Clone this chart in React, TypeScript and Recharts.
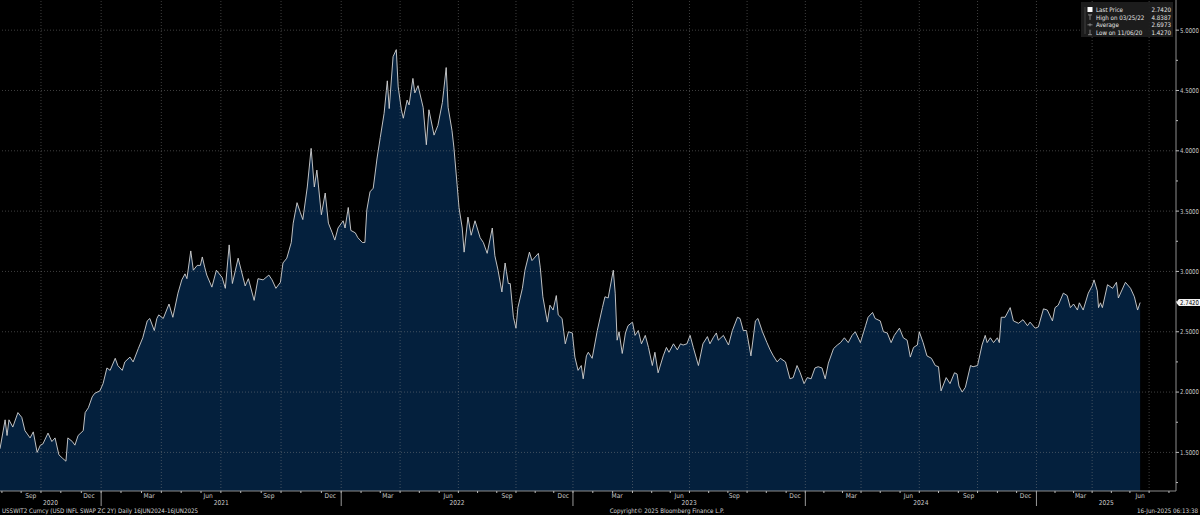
import React from "react";
import { AreaChart, Area, XAxis, YAxis, ReferenceLine } from "recharts";

// day offsets counted from 2020-07-31, Bloomberg daily closes
const days = [
  0, 8, 11, 14, 20, 28, 34, 39, 47, 52,
  58, 63, 67, 75, 81, 86, 92, 98, 103, 106,
  113, 117, 122, 130, 133, 138, 144, 148, 156, 161,
  167, 172, 180, 184, 191, 195, 203, 208, 216, 223,
  230, 234, 241, 245, 248, 255, 264, 270, 278, 284,
  289, 292, 298, 302, 308, 313, 316, 320, 323, 331,
  338, 347, 352, 358, 363, 372, 383, 388, 397, 403,
  411, 420, 425, 431, 438, 442, 448, 455, 458, 464,
  469, 473, 480, 486, 491, 495, 502, 508, 513, 519,
  523, 528, 536, 539, 544, 548, 555, 559, 566, 570,
  573, 578, 583, 589, 594, 600, 605, 608, 614, 619,
  622, 627, 630, 636, 639, 645, 648, 653, 661, 666,
  670, 678, 684, 691, 697, 700, 706, 709, 714, 717,
  722, 725, 731, 736, 742, 750, 755, 761, 769, 773,
  778, 784, 789, 794, 797, 802, 806, 809, 816, 820,
  827, 831, 836, 841, 844, 848, 855, 859, 864, 869,
  872, 878, 883, 888, 894, 898, 903, 908, 911, 916,
  919, 925, 933, 941, 945, 950, 958, 961, 964, 967,
  972, 977, 981, 988, 992, 997, 1002, 1008, 1013, 1019,
  1023, 1028, 1036, 1041, 1045, 1052, 1058, 1063, 1067, 1073,
  1078, 1083, 1091, 1098, 1105, 1109, 1114, 1119, 1122, 1130,
  1138, 1144, 1152, 1156, 1161, 1166, 1173, 1180, 1184, 1191,
  1198, 1203, 1208, 1214, 1219, 1227, 1234, 1239, 1245, 1250,
  1256, 1261, 1267, 1273, 1278, 1284, 1289, 1294, 1302, 1308,
  1313, 1319, 1325, 1331, 1336, 1344, 1352, 1356, 1363, 1367,
  1375, 1380, 1386, 1392, 1397, 1405, 1411, 1417, 1422, 1427,
  1433, 1436, 1442, 1448, 1455, 1461, 1466, 1470, 1478, 1484,
  1491, 1495, 1498, 1503, 1508, 1516, 1520, 1527, 1534, 1539,
  1542, 1547, 1552, 1558, 1561, 1564, 1570, 1578, 1583, 1591,
  1598, 1605, 1609, 1617, 1622, 1630, 1636, 1644, 1648, 1653,
  1661, 1667, 1672, 1677, 1683, 1686, 1692, 1700, 1706, 1709,
  1714, 1716, 1719, 1722, 1730, 1738, 1744, 1747, 1758, 1766,
  1772, 1777, 1781,
];

const prices = [
  1.53, 1.77, 1.64, 1.77, 1.71, 1.83, 1.79, 1.68, 1.62, 1.67,
  1.5, 1.56, 1.57, 1.66, 1.59, 1.62, 1.48, 1.45, 1.427, 1.62,
  1.59, 1.56, 1.64, 1.68, 1.83, 1.87, 1.96, 1.99, 2.01, 2.07,
  2.2, 2.18, 2.28, 2.22, 2.18, 2.25, 2.29, 2.25, 2.36, 2.45,
  2.59, 2.61, 2.51, 2.61, 2.64, 2.61, 2.73, 2.62, 2.82, 2.93,
  2.98, 2.94, 3.17, 3.01, 3.05, 3.05, 3.12, 3.03, 2.97, 2.87,
  3.01, 2.95, 2.86, 3.22, 2.9, 3.11, 2.88, 2.94, 2.76, 2.94,
  2.93, 2.97, 2.93, 2.86, 2.91, 3.07, 3.11, 3.24, 3.4, 3.57,
  3.49, 3.43, 3.7, 4.02, 3.7, 3.84, 3.47, 3.65, 3.4, 3.32,
  3.26, 3.36, 3.42, 3.36, 3.53, 3.34, 3.32, 3.28, 3.24, 3.24,
  3.51, 3.66, 3.69, 3.94, 4.11, 4.31, 4.58, 4.35, 4.78, 4.8387,
  4.53, 4.34, 4.27, 4.42, 4.38, 4.6, 4.48, 4.54, 4.36, 4.05,
  4.34, 4.13, 4.21, 4.4, 4.69, 4.36, 4.17, 4.03, 3.72, 3.53,
  3.36, 3.16, 3.45, 3.3, 3.42, 3.28, 3.24, 3.15, 3.36, 3.13,
  3.01, 2.83, 3.07, 2.9, 2.9, 2.62, 2.53, 2.7, 2.86, 3.01,
  3.16, 3.09, 3.12, 3.15, 3.03, 2.79, 2.58, 2.72, 2.68, 2.8,
  2.64, 2.61, 2.4, 2.5, 2.49, 2.29, 2.18, 2.22, 2.11, 2.3,
  2.33, 2.28, 2.51, 2.7, 2.79, 2.78, 3.01, 2.82, 2.43, 2.5,
  2.32, 2.49, 2.55, 2.58, 2.47, 2.51, 2.4, 2.47, 2.37, 2.22,
  2.33, 2.16, 2.3, 2.37, 2.33, 2.4, 2.35, 2.4, 2.39, 2.4,
  2.47, 2.37, 2.22, 2.4, 2.46, 2.4, 2.45, 2.49, 2.43, 2.47,
  2.39, 2.51, 2.62, 2.61, 2.51, 2.51, 2.3, 2.59, 2.61, 2.5,
  2.41, 2.35, 2.3, 2.25, 2.28, 2.25, 2.11, 2.12, 2.22, 2.16,
  2.07, 2.12, 2.11, 2.2, 2.21, 2.2, 2.11, 2.24, 2.36, 2.39,
  2.41, 2.45, 2.41, 2.47, 2.5, 2.41, 2.55, 2.62, 2.66, 2.61,
  2.59, 2.5, 2.49, 2.41, 2.47, 2.53, 2.45, 2.43, 2.29, 2.37,
  2.39, 2.5, 2.41, 2.3, 2.28, 2.22, 2.21, 2.01, 2.12, 2.07,
  2.16, 2.15, 2.05, 2.0, 2.04, 2.22, 2.21, 2.22, 2.39, 2.47,
  2.41, 2.45, 2.41, 2.45, 2.41, 2.62, 2.62, 2.7, 2.59, 2.57,
  2.6, 2.55, 2.58, 2.53, 2.54, 2.69, 2.68, 2.59, 2.7, 2.72,
  2.82, 2.8, 2.7, 2.73, 2.68, 2.74, 2.68, 2.82, 2.88, 2.93,
  2.84, 2.7, 2.74, 2.7, 2.89, 2.86, 2.91, 2.78, 2.91, 2.86,
  2.79, 2.68, 2.742,
];

const monthLabelDays = [48, 139, 233, 325, 420, 516, 606, 700, 792, 880, 964, 1061, 1147, 1242, 1330, 1419, 1513, 1602, 1688, 1781];
const monthLabels = ["Sep", "Dec", "Mar", "Jun", "Sep", "Dec", "Mar", "Jun", "Sep", "Dec", "Mar", "Jun", "Sep", "Dec", "Mar", "Jun", "Sep", "Dec", "Mar", "Jun"];
const quarterDays = [64, 158, 252, 345, 439, 533, 625, 716, 806, 895, 988, 1077, 1167, 1258, 1345, 1436, 1527, 1619, 1706, 1795];
const yearBreakDays = [158, 533, 895, 1258, 1619];
const yearLabels = ["2020", "2021", "2022", "2023", "2024", "2025"];
const priceTicks = [1.25, 1.5, 1.75, 2, 2.25, 2.5, 2.75, 3, 3.25, 3.5, 3.75, 4, 4.25, 4.5, 4.75, 5];
const gridPrices = [1.5, 2, 2.5, 3, 3.5, 4, 4.5, 5];

const lastPrice = 2.742;
const legendRows = [
  { label: "Last Price", value: "2.7420" },
  { label: "High on 03/25/22", value: "4.8387" },
  { label: "Average", value: "2.6973" },
  { label: "Low on 11/06/20", value: "1.4270" },
];

const X_MAX = 1837;
const Y_DOMAIN: [number, number] = [1.18, 5.25];
const FONT = "'Liberation Sans Narrow', 'DejaVu Sans Condensed', 'Arial Narrow', sans-serif";
const GRID = "rgba(140,140,140,0.45)";

const series = days.map((d, i) => ({ day: d, price: prices[i] }));

// month start marks: quarter lines plus the two months in between
const minorDays: number[] = [3, 33];
quarterDays.forEach((q, i) => {
  minorDays.push(q);
  const next = quarterDays[i + 1];
  if (next) {
    minorDays.push(Math.round(q + (next - q) / 3), Math.round(q + (2 * (next - q)) / 3));
  }
});
minorDays.push(1826);

const yearEdges = [0, ...yearBreakDays, X_MAX];
const yearMidDays = yearLabels.map((_, i) => (yearEdges[i] + yearEdges[i + 1]) / 2);

const MonthTick = (props: any) => {
  const { x, y, payload } = props;
  const idx = monthLabelDays.indexOf(payload.value);
  if (idx < 0) {
    return <line x1={x} x2={x} y1={y} y2={y + 2} stroke="#bbbbbb" strokeWidth={1} />;
  }
  return (
    <text x={x} y={y + 7} textAnchor="middle" fill="#c8c8c8" fontSize={6.6} fontFamily={FONT}>
      {monthLabels[idx]}
    </text>
  );
};

const YearTick = (props: any) => {
  const { x, y, payload } = props;
  if (yearBreakDays.includes(payload.value)) {
    return <line x1={x} x2={x} y1={y - 8} y2={y + 7} stroke="#9a9a9a" strokeWidth={1} />;
  }
  const idx = yearMidDays.indexOf(payload.value);
  return (
    <text x={x} y={y + 6} textAnchor="middle" fill="#c8c8c8" fontSize={6.6} fontFamily={FONT}>
      {yearLabels[idx]}
    </text>
  );
};

const PriceTick = (props: any) => {
  const { x, y, payload } = props;
  const major = gridPrices.includes(payload.value);
  return (
    <g>
      <line x1={x} x2={x + (major ? 3 : 2)} y1={y} y2={y} stroke="#bbbbbb" strokeWidth={1} />
      {major && (
        <text
          x={x + 4}
          y={y + 2.4}
          fill="#c8c8c8"
          fontSize={6.6}
          fontFamily={FONT}
          textLength={19}
          lengthAdjust="spacingAndGlyphs"
        >
          {payload.value.toFixed(4)}
        </text>
      )}
    </g>
  );
};

const LastPriceTag = (props: any) => {
  const { viewBox } = props;
  const x = viewBox.x + viewBox.width;
  const y = viewBox.y;
  return (
    <g>
      <polygon
        points={`${x},${y} ${x + 3},${y - 3.5} ${x + 24},${y - 3.5} ${x + 24},${y + 3.5} ${x + 3},${y + 3.5}`}
        fill="#f2f2f2"
      />
      <text
        x={x + 4}
        y={y + 2.4}
        fill="#000"
        fontSize={6.6}
        fontFamily={FONT}
        textLength={19}
        lengthAdjust="spacingAndGlyphs"
      >
        {lastPrice.toFixed(4)}
      </text>
    </g>
  );
};

const LegendIcon = ({ kind, x, y }: { kind: number; x: number; y: number }) => {
  if (kind === 0) return <rect x={x - 2.5} y={y - 3} width={5} height={5} fill="#ffffff" />;
  if (kind === 1)
    return (
      <g stroke="#9a9a9a" strokeWidth={0.8}>
        <line x1={x - 2} x2={x + 2} y1={y - 2.5} y2={y - 2.5} />
        <line x1={x} x2={x} y1={y - 2.5} y2={y + 2.5} />
      </g>
    );
  if (kind === 2)
    return (
      <g stroke="#9a9a9a" strokeWidth={0.8}>
        <line x1={x - 2.5} x2={x + 2.5} y1={y} y2={y} />
        <line x1={x} x2={x} y1={y - 1.5} y2={y + 1.5} />
      </g>
    );
  return (
    <g stroke="#9a9a9a" strokeWidth={0.8}>
      <line x1={x - 2} x2={x + 2} y1={y + 2.5} y2={y + 2.5} />
      <line x1={x} x2={x} y1={y - 2.5} y2={y + 2.5} />
    </g>
  );
};

export default function App() {
  return (
    <div style={{ position: "absolute", left: 0, top: 0, width: 1200, height: 515, background: "#000", overflow: "hidden" }}>
      <AreaChart width={1200} height={515} data={series} margin={{ top: 0, right: 0, bottom: 8, left: 0 }}>
        <XAxis
          xAxisId="m"
          dataKey="day"
          type="number"
          domain={[0, X_MAX]}
          allowDataOverflow
          ticks={[...monthLabelDays, ...minorDays]}
          interval={0}
          tick={<MonthTick />}
          tickLine={false}
          tickSize={0}
          tickMargin={0}
          height={8}
          axisLine={{ stroke: "#8c8c8c" }}
        />
        <XAxis
          xAxisId="yr"
          dataKey="day"
          type="number"
          domain={[0, X_MAX]}
          allowDataOverflow
          ticks={[...yearBreakDays, ...yearMidDays]}
          interval={0}
          tick={<YearTick />}
          tickLine={false}
          tickSize={0}
          tickMargin={0}
          height={8}
          axisLine={false}
        />
        <YAxis
          orientation="right"
          type="number"
          domain={Y_DOMAIN}
          allowDataOverflow
          ticks={priceTicks}
          interval={0}
          tick={<PriceTick />}
          tickLine={false}
          tickSize={0}
          tickMargin={0}
          width={24}
          axisLine={{ stroke: "#8c8c8c" }}
        />
        <Area
          xAxisId="m"
          type="linear"
          dataKey="price"
          stroke="#d4d4d4"
          strokeWidth={0.9}
          fill="#04203d"
          fillOpacity={1}
          isAnimationActive={false}
          dot={false}
          activeDot={false}
        />
        {quarterDays.map((d) => (
          <ReferenceLine key={`q${d}`} xAxisId="m" x={d} stroke={GRID} strokeDasharray="1 2" />
        ))}
        {gridPrices.map((p) => (
          <ReferenceLine key={`p${p}`} xAxisId="m" y={p} stroke={GRID} strokeDasharray="1 2" />
        ))}
        <ReferenceLine xAxisId="m" y={lastPrice} stroke="none" label={<LastPriceTag />} />
      </AreaChart>
      <svg width={1200} height={515} style={{ position: "absolute", left: 0, top: 0, pointerEvents: "none" }}>
        <rect x={1081} y={2} width={92} height={35} fill="#1e1e1e" fillOpacity={0.92} />
        <line x1={1085} x2={1085} y1={7} y2={34} stroke="#5a5a5a" strokeWidth={0.6} />
        {legendRows.map((r, i) => {
          const cy = 10 + i * 7.4;
          return (
            <g key={r.label}>
              <LegendIcon kind={i} x={1090} y={cy} />
              <text x={1096} y={cy + 2.3} fill="#e6e6e6" fontSize={6.2} fontFamily={FONT}>
                {r.label}
              </text>
              <text x={1171} y={cy + 2.3} fill="#e6e6e6" fontSize={6.2} fontFamily={FONT} textAnchor="end">
                {r.value}
              </text>
            </g>
          );
        })}
        <text x={2} y={513} fill="#d8d8d8" fontSize={6.2} fontFamily={FONT}>
          USSWIT2 Curncy (USD INFL SWAP ZC 2Y)  Daily 16JUN2024-16JUN2025
        </text>
        <text x={667} y={513} fill="#d8d8d8" fontSize={6.2} fontFamily={FONT} textAnchor="middle">
          Copyright© 2025 Bloomberg Finance L.P.
        </text>
        <text x={1198} y={513} fill="#d8d8d8" fontSize={6.2} fontFamily={FONT} textAnchor="end">
          16-Jun-2025 06:13:38
        </text>
      </svg>
    </div>
  );
}
